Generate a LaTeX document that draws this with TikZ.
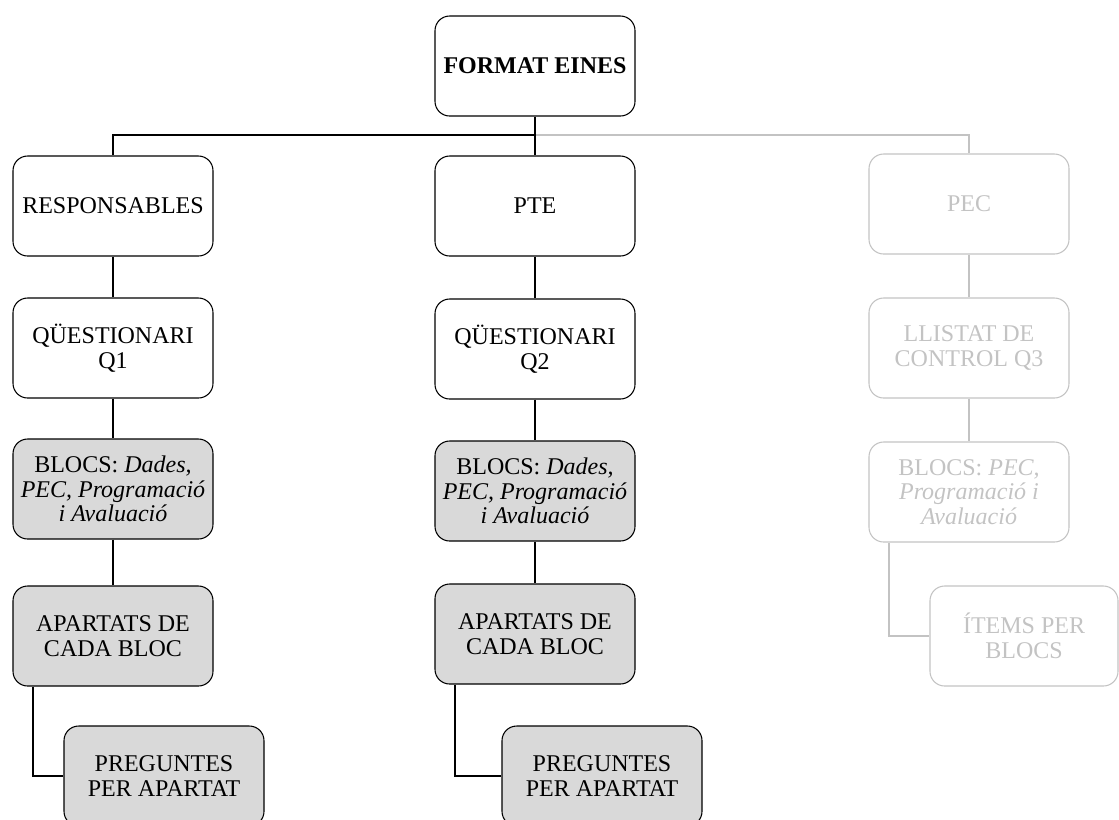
\documentclass[tikz,border=0pt]{standalone}
\usepackage{fontspec}
\setmainfont{Liberation Serif}
\usetikzlibrary{positioning}
\definecolor{boxgray}{RGB}{217,217,217}
\definecolor{fadegray}{RGB}{195,195,195}
\newcommand\boxwidth{150pt}
\newcommand\boxheight{75pt}
\newcommand\boxfont{\fontsize{18}{18.5}\selectfont}
\tikzset{
  toolbox/.style={draw, rounded corners=11pt, line width=0.8pt,
    minimum width=\boxwidth, minimum height=\boxheight,
    align=center, font=\boxfont, inner sep=2pt},
  filledbox/.style={toolbox, fill=boxgray},
  fadedbox/.style={toolbox, draw=fadegray, text=fadegray},
  link/.style={line width=1.5pt},
  fadedlink/.style={line width=1.5pt, draw=fadegray},
}

\begin{document}
\begin{tikzpicture}[x=0.75pt, y=-0.75pt]
    \useasboundingbox (0,0) rectangle (1119,819);
    % root
    \node[toolbox] (eines) at (535,66) {\textbf{FORMAT EINES}};
    \coordinate (hub) at (535,135);
    % responsables
    \node[toolbox] (resp) at (113,206) {RESPONSABLES};
    \node[toolbox] (qone) at (113,348) {QÜESTIONARI\\Q1};
    \node[filledbox] (blocsone) at (113,489)
      {BLOCS: \textit{Dades,}\\\textit{PEC, Programació}\\\textit{i Avaluació}};
    \node[filledbox] (apartone) at (113,636) {APARTATS DE\\CADA BLOC};
    \node[filledbox] (pregone) at (164,776) {PREGUNTES\\PER APARTAT};
    % pte
    \node[toolbox] (pte) at (535,206) {PTE};
    \node[toolbox] (qtwo) at (535,349) {QÜESTIONARI\\Q2};
    \node[filledbox] (blocstwo) at (535,491)
      {BLOCS: \textit{Dades,}\\\textit{PEC, Programació}\\\textit{i Avaluació}};
    \node[filledbox] (aparttwo) at (535,634) {APARTATS DE\\CADA BLOC};
    \node[filledbox] (pregtwo) at (602,776) {PREGUNTES\\PER APARTAT};
    % pec
    \node[fadedbox] (pec) at (969,204) {PEC};
    \node[fadedbox] (llistat) at (969,348) {LLISTAT DE\\CONTROL Q3};
    \node[fadedbox] (blocsthree) at (969,492)
      {BLOCS: \textit{PEC,}\\\textit{Programació i}\\\textit{Avaluació}};
    \node[fadedbox, minimum width=141pt] (items) at (1024,636) {ÍTEMS PER\\BLOCS};

    \draw[fadedlink] (hub) -| (pec);
    \draw[link] (eines) -- (hub) -| (resp);
    \draw[link] (hub) -- (pte);
    \draw[link] (resp) -- (qone);
    \draw[link] (qone) -- (blocsone);
    \draw[link] (blocsone) -- (apartone);
    \draw[link] ([xshift=-60pt]apartone.south) |- (pregone.west);
    \draw[link] (pte) -- (qtwo);
    \draw[link] (qtwo) -- (blocstwo);
    \draw[link] (blocstwo) -- (aparttwo);
    \draw[link] ([xshift=-60pt]aparttwo.south) |- (pregtwo.west);
    \draw[fadedlink] (pec) -- (llistat);
    \draw[fadedlink] (llistat) -- (blocsthree);
    \draw[fadedlink] ([xshift=-60pt]blocsthree.south) |- (items.west);
\end{tikzpicture}
\end{document}
